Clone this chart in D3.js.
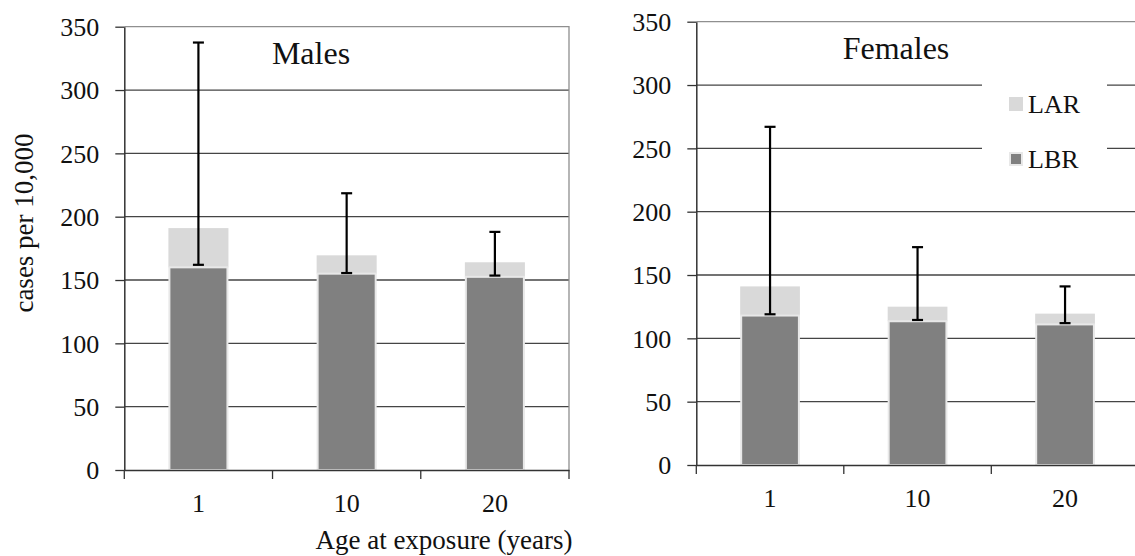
<!DOCTYPE html>
<html>
<head>
<meta charset="utf-8">
<script src="https://cdn.jsdelivr.net/npm/d3@7"></script>
<style>
  body { margin: 0; background: #fff; }
</style>
</head>
<body>
<div id="chart"></div>
<script>
// data (cases per 10,000)
const ages = ["1", "10", "20"];
const yTicks = [0, 50, 100, 150, 200, 250, 300, 350];

const malesLBR = [160, 155, 152.5];
const malesLAR = [31, 14.5, 11.5];
const malesErrLow = [162, 155.5, 153.5];
const malesErrHigh = [337.5, 218.5, 188];

const femalesLBR = [118, 113.5, 111];
const femalesLAR = [23, 11.5, 8.5];
const femalesErrLow = [119, 114.5, 112];
const femalesErrHigh = [267, 172, 141];

const legendItems = ["LAR", "LBR"];

const W = 1135, H = 556;
const FONT = "'Liberation Serif', 'Times New Roman', serif";
const darkFill = "#808080", lightFill = "#d9d9d9";

const svg = d3.select("#chart").append("svg")
    .attr("width", W)
    .attr("height", H)
    .attr("font-family", FONT);

function drawPanel(p) {
    const g = svg.append("g");
    const x = d3.scaleBand().domain(ages).range([p.left, p.right]).padding(0);
    const y = d3.scaleLinear().domain([0, 350]).range([p.bottom, p.top]);
    const barW = x.bandwidth() * 0.405;

    // gridlines
    g.selectAll(".grid")
        .data(yTicks.filter(t => t > 0 && t < 350))
        .join("line")
        .attr("x1", p.left).attr("x2", p.right)
        .attr("y1", d => y(d)).attr("y2", d => y(d))
        .attr("stroke", "#454545").attr("stroke-width", 1.3);

    // plot frame (top and right)
    g.append("path")
        .attr("d", `M${p.left},${y(350)}H${p.right}V${y(0)}`)
        .attr("fill", "none").attr("stroke", "#8f8f8f").attr("stroke-width", 1.3);

    const rows = ages.map((a, i) => ({
        age: a, lbr: p.lbr[i], lar: p.lar[i], lo: p.errLow[i], hi: p.errHigh[i]
    }));

    const cx = d => x(d.age) + x.bandwidth() / 2;

    // LAR on top of LBR
    g.selectAll(".lar")
        .data(rows)
        .join("rect")
        .attr("x", d => cx(d) - barW / 2)
        .attr("width", barW)
        .attr("y", d => y(d.lbr + d.lar))
        .attr("height", d => y(d.lbr) - y(d.lbr + d.lar))
        .attr("fill", lightFill);

    g.selectAll(".lbr")
        .data(rows)
        .join("rect")
        .attr("x", d => cx(d) - barW / 2 + 1)
        .attr("width", barW - 2)
        .attr("y", d => y(d.lbr))
        .attr("height", d => y(0) - y(d.lbr))
        .attr("fill", darkFill)
        .attr("stroke", "#e8e8e8").attr("stroke-width", 2);

    // error bars
    const err = g.selectAll(".err").data(rows).join("g");
    err.append("line")
        .attr("x1", cx).attr("x2", cx)
        .attr("y1", d => y(d.lo)).attr("y2", d => y(d.hi))
        .attr("stroke", "#000").attr("stroke-width", 2.2);
    err.selectAll(".cap")
        .data(d => [d.lo, d.hi].map(v => ({ v, c: cx(d) })))
        .join("line")
        .attr("x1", d => d.c - 5.5).attr("x2", d => d.c + 5.5)
        .attr("y1", d => y(d.v)).attr("y2", d => y(d.v))
        .attr("stroke", "#000").attr("stroke-width", 2.2);

    // y axis
    const yAxis = g.append("g")
        .attr("transform", `translate(${p.left},0)`)
        .call(d3.axisLeft(y).tickValues(yTicks).tickSize(9).tickSizeOuter(0).tickPadding(16))
        .attr("font-family", FONT);
    yAxis.select(".domain").attr("stroke", "#333").attr("stroke-width", 1.5);
    yAxis.selectAll(".tick line").attr("stroke", "#333").attr("stroke-width", 1.3);
    yAxis.selectAll("text").attr("font-size", 26).attr("fill", "#111").attr("dy", "0.34em");

    // x axis: labels at category centres, ticks at boundaries
    const xAxis = g.append("g")
        .attr("transform", `translate(0,${p.bottom})`)
        .call(d3.axisBottom(x).tickSize(0).tickSizeOuter(0).tickPadding(24))
        .attr("font-family", FONT);
    xAxis.select(".domain").attr("stroke", "#333").attr("stroke-width", 1.5);
    xAxis.selectAll("text").attr("font-size", 26).attr("fill", "#111");

    const bounds = ages.map(a => x(a)).concat([p.right]);
    xAxis.selectAll(".bound")
        .data(bounds)
        .join("line")
        .attr("x1", d => d).attr("x2", d => d)
        .attr("y1", 0).attr("y2", 9)
        .attr("stroke", "#333").attr("stroke-width", 1.3);

    // panel title
    g.append("text")
        .attr("x", p.titleX).attr("y", p.titleY)
        .attr("text-anchor", "middle")
        .attr("font-size", 32)
        .attr("fill", "#111")
        .text(p.title);

    return { x, y };
}

drawPanel({
    left: 124.3, right: 569, top: 26.7, bottom: 470,
    lbr: malesLBR, lar: malesLAR, errLow: malesErrLow, errHigh: malesErrHigh,
    title: "Males", titleX: 311, titleY: 64
});

drawPanel({
    left: 696.3, right: 1138.8, top: 21.7, bottom: 465,
    lbr: femalesLBR, lar: femalesLAR, errLow: femalesErrLow, errHigh: femalesErrHigh,
    title: "Females", titleX: 896, titleY: 59
});

// legend (inside the right panel, white box over the gridlines)
const legend = svg.append("g");
legend.append("rect")
    .attr("x", 982).attr("y", 72)
    .attr("width", 125).attr("height", 108)
    .attr("fill", "#fff");
const legendColor = d3.scaleOrdinal().domain(legendItems).range([lightFill, darkFill]);
const li = legend.selectAll(".item")
    .data(legendItems)
    .join("g")
    .attr("transform", (d, i) => `translate(1009,${97 + i * 55})`);
li.append("rect")
    .attr("x", d => d === "LBR" ? 1 : 0)
    .attr("y", d => d === "LBR" ? 1 : 0)
    .attr("width", d => d === "LBR" ? 12 : 14)
    .attr("height", d => d === "LBR" ? 12 : 14)
    .attr("fill", d => legendColor(d))
    .attr("stroke", d => d === "LBR" ? "#e8e8e8" : "none")
    .attr("stroke-width", 2);
li.append("text")
    .attr("x", 19).attr("y", 16)
    .attr("font-size", 26)
    .attr("fill", "#111")
    .text(d => d);

// axis titles
svg.append("text")
    .attr("transform", "translate(33,223) rotate(-90)")
    .attr("text-anchor", "middle")
    .attr("font-size", 27)
    .attr("fill", "#111")
    .text("cases per 10,000");

svg.append("text")
    .attr("x", 444).attr("y", 549)
    .attr("text-anchor", "middle")
    .attr("font-size", 27)
    .attr("fill", "#111")
    .text("Age at exposure (years)");
</script>
</body>
</html>
